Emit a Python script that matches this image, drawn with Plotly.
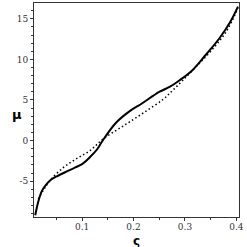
import plotly.graph_objects as go

solid_x = [0.009, 0.015, 0.022, 0.028, 0.040, 0.051, 0.077, 0.102, 0.116, 0.129, 0.140,
           0.166, 0.192, 0.217, 0.250, 0.270, 0.289, 0.315, 0.341, 0.367, 0.387, 0.403]
solid_y = [-9.2, -7.5, -6.2, -5.6, -4.8, -4.4, -3.6, -2.8, -2.0, -1.1, 0.0,
           2.2, 3.6, 4.6, 6.0, 6.6, 7.4, 8.7, 10.6, 12.6, 14.5, 16.5]

dot_x = [0.015, 0.025, 0.038, 0.064, 0.090, 0.116, 0.141, 0.180, 0.219, 0.258,
         0.278, 0.297, 0.320, 0.350, 0.380, 0.403]
dot_y = [-7.2, -6.1, -4.9, -3.3, -2.2, -1.2, 0.2, 1.8, 3.4, 5.1,
         6.3, 7.5, 9.0, 11.0, 13.4, 16.3]

x_ticks = [0.1, 0.2, 0.3, 0.4]
x_tick_labels = ["0.1", "0.2", "0.3", "0.4"]
y_ticks = [-5, 0, 5, 10, 15]
y_tick_labels = ["-5", "0", "5", "10", "15"]

fig = go.Figure()
fig.add_trace(go.Scatter(x=dot_x, y=dot_y, mode="lines", line=dict(color="black", width=1.5, dash="1.5px,2.5px", shape="spline")))
fig.add_trace(go.Scatter(x=solid_x, y=solid_y, mode="lines", line=dict(color="black", width=2, shape="spline")))

tickfont = dict(family="DejaVu Serif", size=9, color="#333")
fig.update_layout(
    width=247, height=247, margin=dict(l=34, r=8, t=3, b=30),
    paper_bgcolor="white", plot_bgcolor="white", showlegend=False,
    xaxis=dict(range=[0.0066, 0.405], tickvals=x_ticks, ticktext=x_tick_labels, ticks="outside",
               ticklen=3, tickcolor="#333", showgrid=False, zeroline=False, showline=True,
               linecolor="#333", linewidth=1, mirror=True, tickfont=tickfont, ticklabelstandoff=-2,
               minor=dict(tickvals=[0.05, 0.15, 0.25, 0.35], ticks="outside", ticklen=2, tickcolor="#333")),
    yaxis=dict(range=[-9.41, 16.94], tickvals=y_ticks, ticktext=y_tick_labels, ticks="outside",
               ticklen=3, tickcolor="#333", showgrid=False, zeroline=False, showline=True,
               linecolor="#333", linewidth=1, mirror=True, tickfont=tickfont,
               minor=dict(dtick=1, ticks="outside", ticklen=2, tickcolor="#333")),
    annotations=[
        dict(text="<b>μ</b>", xref="paper", yref="paper", x=-0.117, y=0.48, showarrow=False,
             font=dict(family="DejaVu Sans", size=13, color="black"), yanchor="middle"),
        dict(text="<b>ς</b>", xref="paper", yref="paper", x=0.5, y=-0.11, showarrow=False,
             font=dict(family="DejaVu Sans", size=12, color="black"), yanchor="middle"),
    ],
)
fig.write_html("out.html", config={"displayModeBar": False},
               post_script="document.body.style.margin='0';document.body.style.overflow='hidden';")
